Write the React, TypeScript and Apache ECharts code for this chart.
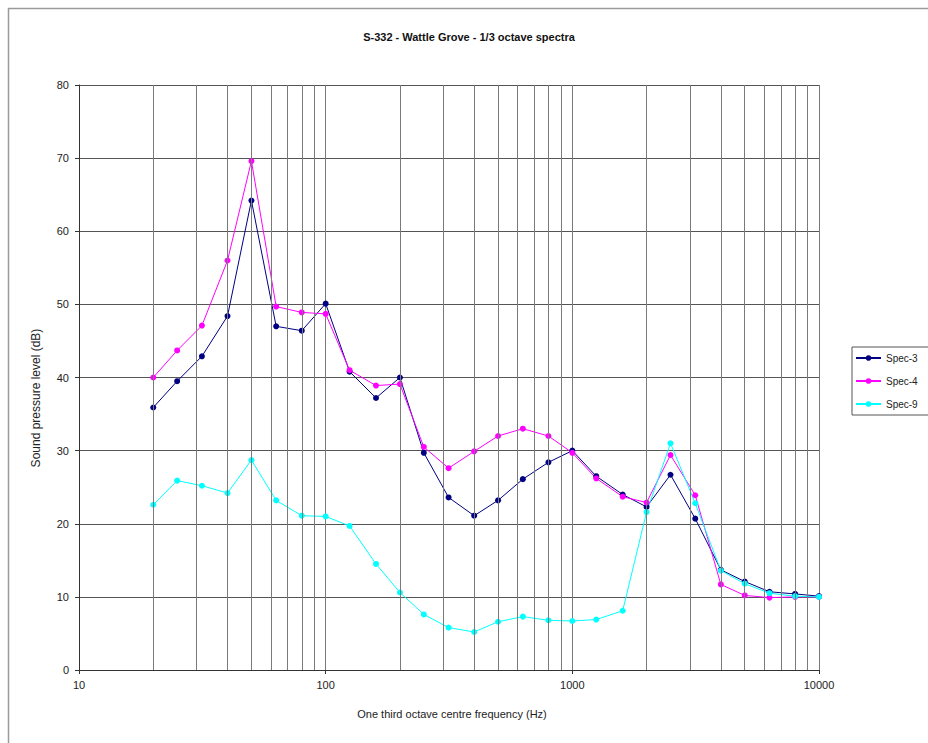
import React, { useEffect, useRef } from "react";
import * as echarts from "echarts";

const TITLE = "S-332 - Wattle Grove - 1/3 octave spectra";
const X_NAME = "One third octave centre frequency (Hz)";
const Y_NAME = "Sound pressure level (dB)";

const freqs = [20, 25, 31.5, 40, 50, 63, 80, 100, 125, 160, 200, 250, 315, 400, 500, 630, 800, 1000, 1250, 1600, 2000, 2500, 3150, 4000, 5000, 6300, 8000, 10000];
const spec3 = [35.9, 39.5, 42.9, 48.4, 64.2, 47.0, 46.4, 50.1, 40.8, 37.2, 40.0, 29.7, 23.6, 21.1, 23.2, 26.1, 28.4, 30.0, 26.5, 24.0, 22.3, 26.7, 20.7, 13.7, 12.1, 10.7, 10.4, 10.1];
const spec4 = [40.0, 43.7, 47.1, 56.0, 69.6, 49.7, 48.9, 48.7, 41.0, 38.9, 39.1, 30.5, 27.6, 29.9, 32.0, 33.0, 32.0, 29.7, 26.2, 23.7, 22.9, 29.4, 23.9, 11.7, 10.2, 9.9, 10.0, 10.0];
const spec9 = [22.6, 25.9, 25.2, 24.2, 28.7, 23.2, 21.1, 21.0, 19.7, 14.5, 10.6, 7.6, 5.8, 5.2, 6.6, 7.3, 6.8, 6.7, 6.9, 8.1, 21.6, 31.0, 22.8, 13.6, 11.8, 10.5, 10.1, 10.0];
const minorGridFreqs = [20, 30, 40, 50, 60, 70, 80, 90, 200, 300, 400, 500, 600, 700, 800, 900, 2000, 3000, 4000, 5000, 6000, 7000, 8000, 9000];

const seriesDefs = [
  { name: "Spec-3", values: spec3, color: "#000080" },
  { name: "Spec-4", values: spec4, color: "#FF00FF" },
  { name: "Spec-9", values: spec9, color: "#00FFFF" },
];

const FONT = "'Liberation Sans', Arial, sans-serif";

export default function App() {
  const ref = useRef<HTMLDivElement>(null);
  useEffect(() => {
    if (!ref.current) return;
    const chart = echarts.init(ref.current, null, { renderer: "svg" });
    const series: any[] = seriesDefs.map((s) => ({
      name: s.name,
      type: "line",
      data: freqs.map((f, i) => [f, s.values[i]]),
      symbol: "circle",
      symbolSize: 6,
      color: s.color,
      lineStyle: { width: 1, color: s.color },
      itemStyle: { color: s.color },
      z: 3,
    }));
    series.unshift({
      name: "grid",
      type: "line",
      data: [],
      silent: true,
      z: 1,
      markLine: {
        silent: true,
        symbol: ["none", "none"],
        label: { show: false },
        lineStyle: { color: "#7a7a7a", width: 1, type: "solid" },
        data: minorGridFreqs.map((f) => ({ xAxis: f })),
      },
    });
    chart.setOption({
      animation: false,
      backgroundColor: "#fff",
      textStyle: { fontFamily: FONT },
      title: {
        text: TITLE,
        left: 464,
        top: 26,
        textAlign: "center",
        textStyle: { fontSize: 11, fontWeight: "bold", color: "#111", fontFamily: FONT },
      },
      grid: { left: 79, top: 85, right: 109, bottom: 73, containLabel: false },
      legend: {
        data: seriesDefs.map((s) => s.name),
        orient: "vertical",
        left: 852,
        top: 347,
        itemWidth: 25,
        itemHeight: 7,
        itemGap: 13,
        padding: [6, 30, 6, 3],
        borderColor: "#555",
        borderWidth: 1,
        textStyle: { fontSize: 10, color: "#222", fontFamily: FONT },
      },
      xAxis: {
        type: "log",
        logBase: 10,
        min: 10,
        max: 10000,
        axisLine: { show: true, lineStyle: { color: "#333", width: 1 } },
        axisTick: { show: true, length: 4, inside: false, lineStyle: { color: "#333" } },
        axisLabel: {
          fontSize: 11,
          color: "#222",
          margin: 9,
          fontFamily: FONT,
          formatter: (v: number) => String(Math.round(v)),
        },
        splitLine: { show: true, lineStyle: { color: "#7a7a7a", width: 1 } },
      },
      yAxis: {
        type: "value",
        min: 0,
        max: 80,
        interval: 10,
        axisLine: { show: true, lineStyle: { color: "#333", width: 1 } },
        axisTick: { show: true, length: 4, inside: false, lineStyle: { color: "#333" } },
        axisLabel: { fontSize: 11, color: "#222", margin: 10, fontFamily: FONT },
        splitLine: { show: true, lineStyle: { color: "#555", width: 1 } },
      },
      graphic: [
        {
          type: "rect",
          shape: { x: 8.5, y: 8.5, width: 1000, height: 1000 },
          style: { fill: "none", stroke: "#9a9a9a", lineWidth: 1.5 },
          silent: true,
          z: -10,
        },
        {
          type: "text",
          x: 452,
          y: 714,
          style: { text: X_NAME, fontSize: 11, fill: "#222", font: `11px ${FONT}`, textAlign: "center", textVerticalAlign: "middle" },
          silent: true,
        },
        {
          type: "text",
          x: 36,
          y: 398,
          rotation: Math.PI / 2,
          style: { text: Y_NAME, fontSize: 12, fill: "#222", font: `12px ${FONT}`, textAlign: "center", textVerticalAlign: "middle" },
          silent: true,
        },
      ],
      series,
    });
    return () => chart.dispose();
  }, []);
  return <div ref={ref} style={{ position: "absolute", left: 0, top: 0, width: 928, height: 743 }} />;
}
